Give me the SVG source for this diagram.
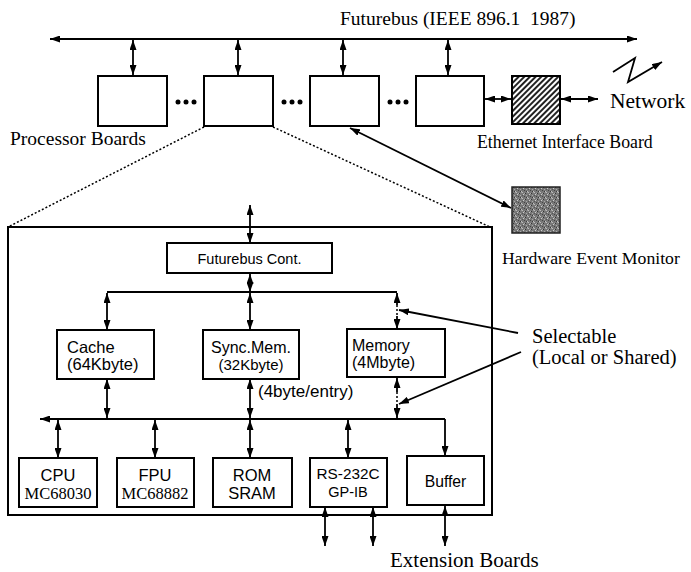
<svg xmlns="http://www.w3.org/2000/svg" width="691" height="572" viewBox="0 0 691 572">
<style>
.box{fill:#fff;stroke:#000;stroke-width:2}
.ln{fill:none;stroke:#000;stroke-width:1.8}
.da{fill:none;stroke:#000;stroke-width:1.8;marker-start:url(#ah);marker-end:url(#ah)}
.sa{fill:none;stroke:#000;stroke-width:1.8;marker-end:url(#ah)}
.dot{fill:none;stroke:#000;stroke-width:1.5;stroke-dasharray:2 2}
.ser{font-family:"Liberation Serif","Times New Roman",serif;fill:#000}
.sans{font-family:"Liberation Sans",Arial,sans-serif;fill:#000}
</style>
<defs>
<marker id="ah" markerUnits="userSpaceOnUse" markerWidth="10" markerHeight="7" refX="10" refY="3.5" orient="auto-start-reverse">
<path d="M0,0 L10,3.5 L0,7 z" fill="#000"/>
</marker>
<pattern id="hatch" patternUnits="userSpaceOnUse" width="4" height="4" patternTransform="rotate(-45)">
<rect width="4" height="4" fill="#fff"/>
<rect width="4" height="2" fill="#222"/>
</pattern>
<pattern id="stip" patternUnits="userSpaceOnUse" width="6" height="6">
<rect width="6" height="6" fill="#777"/>
<rect x="0" y="0" width="1" height="1" fill="#bbb"/>
<rect x="3" y="1" width="1" height="1" fill="#333"/>
<rect x="1" y="2" width="1" height="1" fill="#ccc"/>
<rect x="4" y="3" width="1" height="1" fill="#aaa"/>
<rect x="2" y="4" width="1" height="1" fill="#444"/>
<rect x="5" y="5" width="1" height="1" fill="#c0c0c0"/>
<rect x="0" y="3" width="1" height="1" fill="#555"/>
<rect x="5" y="0" width="1" height="1" fill="#999"/>
<rect x="2" y="1" width="1" height="1" fill="#a8a8a8"/>
<rect x="4" y="5" width="1" height="1" fill="#3a3a3a"/>
</pattern>
</defs>

<text class="ser" x="340" y="25" font-size="19.5" xml:space="preserve">Futurebus (IEEE 896.1  1987)</text>

<g id="connectors">
<line class="da" x1="50" y1="39" x2="637" y2="39"/>
<line class="da" x1="133" y1="40" x2="133" y2="75"/>
<line class="da" x1="238" y1="40" x2="238" y2="75"/>
<line class="da" x1="343" y1="40" x2="343" y2="75"/>
<line class="da" x1="448" y1="40" x2="448" y2="75"/>
<line class="da" x1="485" y1="99" x2="511" y2="99"/>
<line class="da" x1="561" y1="99" x2="598" y2="99"/>
<polyline class="sa" points="613,72 635,58 628,82 662,62"/>
<line class="da" x1="350" y1="128" x2="511" y2="208"/>
<line class="dot" x1="204" y1="127" x2="8" y2="227"/>
<line class="dot" x1="273" y1="127" x2="490" y2="227"/>

<line class="da" x1="250" y1="205" x2="250" y2="243"/>
<line class="da" x1="250" y1="274" x2="250" y2="292"/>
<polyline class="ln" points="107,292 397,292"/>
<line class="da" x1="107" y1="293" x2="107" y2="330"/>
<line class="da" x1="250" y1="293" x2="250" y2="330"/>
<line class="sa" x1="397" y1="305" x2="397" y2="293"/>
<line class="dot" x1="397" y1="305" x2="397" y2="316"/>
<line class="sa" x1="397" y1="316" x2="397" y2="329"/>
<line class="sa" x1="518" y1="333" x2="399" y2="310"/>

<line class="da" x1="107" y1="379" x2="107" y2="418"/>
<line class="da" x1="250" y1="379" x2="250" y2="418"/>
<line class="sa" x1="397" y1="392" x2="397" y2="378"/>
<line class="dot" x1="397" y1="392" x2="397" y2="404"/>
<line class="sa" x1="397" y1="404" x2="397" y2="418"/>
<line class="sa" x1="521" y1="352" x2="399" y2="404"/>
<polyline class="sa" points="445,419 40,419"/>
<line class="sa" x1="445" y1="419" x2="445" y2="456"/>
<line class="da" x1="58" y1="420" x2="58" y2="458"/>
<line class="da" x1="155" y1="420" x2="155" y2="458"/>
<line class="da" x1="250" y1="420" x2="250" y2="458"/>
<line class="da" x1="348" y1="420" x2="348" y2="458"/>
<line class="da" x1="325" y1="507" x2="325" y2="546"/>
<line class="da" x1="373" y1="507" x2="373" y2="546"/>
<line class="da" x1="445" y1="506" x2="445" y2="546"/>
</g>

<g id="board1"><rect class="box" x="98" y="76" width="69" height="50"/></g>
<g id="dots1"><circle cx="178" cy="102" r="2.5"/><circle cx="186" cy="102" r="2.5"/><circle cx="194" cy="102" r="2.5"/></g>
<g id="board2"><rect class="box" x="204" y="76" width="69" height="50"/></g>
<g id="dots2"><circle cx="284" cy="102" r="2.5"/><circle cx="292" cy="102" r="2.5"/><circle cx="300" cy="102" r="2.5"/></g>
<g id="board3"><rect class="box" x="310" y="76" width="69" height="50"/></g>
<g id="dots3"><circle cx="390" cy="102" r="2.5"/><circle cx="398" cy="102" r="2.5"/><circle cx="406" cy="102" r="2.5"/></g>
<g id="board4"><rect class="box" x="416" y="76" width="68" height="50"/></g>
<g id="processor-label"><text class="ser" x="10" y="145" font-size="19.5">Processor Boards</text></g>
<g id="ethernet"><rect x="512" y="76" width="48" height="48" fill="url(#hatch)" stroke="#000" stroke-width="2"/>
<text class="ser" x="477" y="148" font-size="17.8">Ethernet Interface Board</text></g>
<g id="network"><text class="ser" x="610" y="108" font-size="21.5">Network</text></g>
<g id="monitor"><rect x="512" y="187" width="48" height="46" fill="url(#stip)" stroke="#222" stroke-width="1.5"/>
<text class="ser" x="502" y="264" font-size="17.7">Hardware Event Monitor</text></g>

<g id="board-detail"><rect x="8" y="227" width="484" height="288" fill="none" stroke="#000" stroke-width="2"/></g>
<g id="futurebus-cont"><rect class="box" x="167" y="243" width="165" height="30"/>
<text class="sans" x="249.5" y="264" font-size="14.5" text-anchor="middle">Futurebus Cont.</text></g>
<g id="cache"><rect class="box" x="57" y="330" width="97" height="49"/>
<text class="sans" x="67" y="353" font-size="16.5">Cache</text>
<text class="sans" x="67" y="370" font-size="16.5">(64Kbyte)</text></g>
<g id="syncmem"><rect class="box" x="203" y="330" width="96" height="49"/>
<text class="sans" x="251" y="353" font-size="16" text-anchor="middle">Sync.Mem.</text>
<text class="sans" x="251" y="370" font-size="15" text-anchor="middle">(32Kbyte)</text></g>
<g id="memory"><rect class="box" x="347" y="329" width="98" height="48"/>
<text class="sans" x="352" y="351" font-size="16">Memory</text>
<text class="sans" x="352" y="368" font-size="16">(4Mbyte)</text></g>
<g id="entry-label"><text class="sans" x="258" y="397" font-size="17">(4byte/entry)</text></g>
<g id="selectable"><text class="ser" x="532" y="343" font-size="20.5">Selectable</text>
<text class="ser" x="532" y="364" font-size="20.5">(Local or Shared)</text></g>

<g id="cpu"><rect class="box" x="19" y="458" width="78" height="49"/>
<text class="sans" x="58" y="481" font-size="16.5" text-anchor="middle">CPU</text>
<text class="ser" x="58" y="499" font-size="16.5" text-anchor="middle">MC68030</text></g>
<g id="fpu"><rect class="box" x="117" y="458" width="77" height="49"/>
<text class="sans" x="155" y="481" font-size="16.5" text-anchor="middle">FPU</text>
<text class="ser" x="155" y="499" font-size="16.5" text-anchor="middle">MC68882</text></g>
<g id="rom"><rect class="box" x="213" y="458" width="79" height="49"/>
<text class="sans" x="252" y="481" font-size="16.5" text-anchor="middle">ROM</text>
<text class="sans" x="252" y="499" font-size="16.5" text-anchor="middle">SRAM</text></g>
<g id="rs232c"><rect class="box" x="310" y="458" width="77" height="49"/>
<text class="sans" x="348" y="479" font-size="15.3" text-anchor="middle">RS-232C</text>
<text class="sans" x="348" y="497" font-size="14.5" text-anchor="middle">GP-IB</text></g>
<g id="buffer"><rect class="box" x="407" y="456" width="77" height="49"/>
<text class="sans" x="445.5" y="487" font-size="15.7" text-anchor="middle">Buffer</text></g>
<g id="extension"><text class="ser" x="390" y="567" font-size="21">Extension Boards</text></g>
</svg>
